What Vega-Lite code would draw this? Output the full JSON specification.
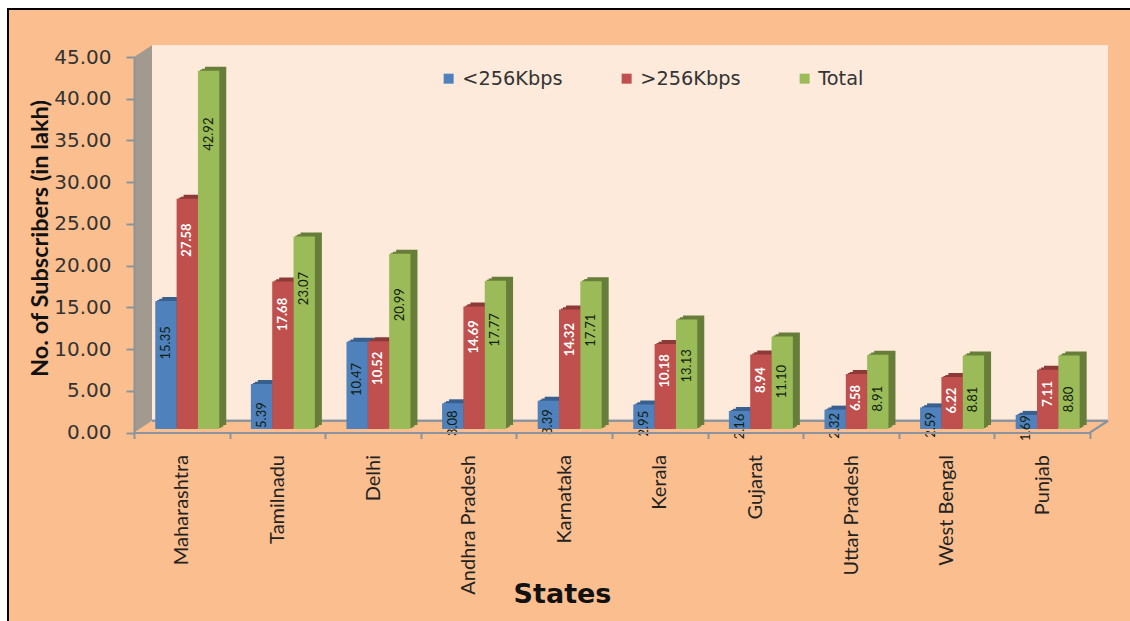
{"$schema":"https://vega.github.io/schema/vega-lite/v6.json","width":956,"height":375.5,"autosize":"none","padding":{"left":134,"top":57,"right":40,"bottom":188.5},"background":"#ffffff","view":{"stroke":null},
"data":{"values":[
{"State":"Maharashtra","Series":"<256Kbps","value":15.35},{"State":"Maharashtra","Series":">256Kbps","value":27.58},{"State":"Maharashtra","Series":"Total","value":42.92},
{"State":"Tamilnadu","Series":"<256Kbps","value":5.39},{"State":"Tamilnadu","Series":">256Kbps","value":17.68},{"State":"Tamilnadu","Series":"Total","value":23.07},
{"State":"Delhi","Series":"<256Kbps","value":10.47},{"State":"Delhi","Series":">256Kbps","value":10.52},{"State":"Delhi","Series":"Total","value":20.99},
{"State":"Andhra Pradesh","Series":"<256Kbps","value":3.08},{"State":"Andhra Pradesh","Series":">256Kbps","value":14.69},{"State":"Andhra Pradesh","Series":"Total","value":17.77},
{"State":"Karnataka","Series":"<256Kbps","value":3.39},{"State":"Karnataka","Series":">256Kbps","value":14.32},{"State":"Karnataka","Series":"Total","value":17.71},
{"State":"Kerala","Series":"<256Kbps","value":2.95},{"State":"Kerala","Series":">256Kbps","value":10.18},{"State":"Kerala","Series":"Total","value":13.13},
{"State":"Gujarat","Series":"<256Kbps","value":2.16},{"State":"Gujarat","Series":">256Kbps","value":8.94},{"State":"Gujarat","Series":"Total","value":11.10},
{"State":"Uttar Pradesh","Series":"<256Kbps","value":2.32},{"State":"Uttar Pradesh","Series":">256Kbps","value":6.58},{"State":"Uttar Pradesh","Series":"Total","value":8.91},
{"State":"West Bengal","Series":"<256Kbps","value":2.59},{"State":"West Bengal","Series":">256Kbps","value":6.22},{"State":"West Bengal","Series":"Total","value":8.81},
{"State":"Punjab","Series":"<256Kbps","value":1.69},{"State":"Punjab","Series":">256Kbps","value":7.11},{"State":"Punjab","Series":"Total","value":8.80}
]},
"resolve":{"scale":{"x":"independent","xOffset":"independent","color":"independent"},"axis":{"x":"independent","y":"independent"},"legend":{"color":"independent"}},
"layer":[
{"data":{"values":[{"d":0,"top":45,"base":0},{"d":0.188,"top":46.4,"base":1.4}]},"layer":[
{"mark":{"type":"rect","fill":"#FBBF8F","stroke":"#000000","strokeWidth":2},"encoding":{"x":{"datum":-1.318,"type":"quantitative","scale":{"domain":[0,10]},"axis":null},"x2":{"datum":11.5},"y":{"datum":50.75,"type":"quantitative","scale":{"domain":[0,45]},"axis":null},"y2":{"datum":-23}}},
{"mark":{"type":"rect","fill":"#FDEADA"},"encoding":{"x":{"datum":0.188,"type":"quantitative","scale":{"domain":[0,10]},"axis":null},"x2":{"datum":10.188},"y":{"datum":46.4,"type":"quantitative","scale":{"domain":[0,45]},"axis":null},"y2":{"datum":1.4}}},
{"mark":{"type":"area","fill":"#A39A8F","orient":"vertical"},"encoding":{"x":{"field":"d","type":"quantitative","scale":{"domain":[0,10]},"axis":null},"y":{"field":"top","type":"quantitative","scale":{"domain":[0,45]},"axis":null},"y2":{"field":"base"}}},
{"mark":{"type":"rule","color":"#8B949E","strokeWidth":2},"encoding":{"x":{"datum":0.188,"type":"quantitative","scale":{"domain":[0,10]},"axis":null},"x2":{"datum":10.188},"y":{"datum":1.4,"type":"quantitative","scale":{"domain":[0,45]},"axis":null}}},
{"mark":{"type":"rule","color":"#8B949E","strokeWidth":2},"encoding":{"x":{"datum":10,"type":"quantitative","scale":{"domain":[0,10]},"axis":null},"x2":{"datum":10.188},"y":{"datum":0,"type":"quantitative","scale":{"domain":[0,45]},"axis":null},"y2":{"datum":1.4}}}
]},
{"mark":{"type":"bar","opacity":0},"encoding":{
"x":{"field":"State","type":"nominal","sort":null,"scale":{"paddingInner":0,"paddingOuter":0},"title":"States","axis":{"zindex":1,"labelAngle":-90,"labelFont":"Lato","labelFontSize":20,"labelColor":"#222222","labelPadding":16,"labelAlign":"right","labelBaseline":"middle","tickBand":"extent","tickSize":6,"tickWidth":2,"tickColor":"#8B949E","domainColor":"#8B949E","domainWidth":2,"labelOverlap":false,"titleFont":"DejaVu Sans","titleFontWeight":"bold","titleFontSize":27,"titleColor":"#111111","titleX":428,"titleY":170,"titleAnchor":"middle","titleBaseline":"alphabetic"}},
"y":{"field":"value","type":"quantitative","scale":{"domain":[0,45]},"title":"No. of Subscribers (in lakh)","axis":{"zindex":1,"format":".2f","values":[0,5,10,15,20,25,30,35,40,45],"grid":false,"labelFont":"DejaVu Sans","labelFontSize":20,"labelColor":"#333333","labelPadding":15,"tickSize":8,"tickWidth":2,"tickColor":"#8B949E","domainColor":"#8B949E","domainWidth":2,"titleFont":"Lato","titleFontWeight":"bold","titleFontSize":23.5,"titleColor":"#111111","titleX":-82,"titleY":181,"titleAnchor":"middle"}}}},
{"mark":{"type":"bar","yOffset":-7.5,"y2Offset":-7.5},"encoding":{
"x":{"field":"State","type":"nominal","sort":null,"scale":{"paddingInner":0.33,"paddingOuter":0.165,"range":[12.5,968.5]},"axis":null},
"xOffset":{"field":"Series","sort":null,"scale":{"range":[0,64]}},
"y":{"field":"value","type":"quantitative","scale":{"domain":[0,45]},"axis":null},
"color":{"field":"Series","type":"nominal","sort":null,"legend":null,"scale":{"range":["#38608F","#8C3A38","#677E3A"]}}}},
{"mark":{"type":"bar","yOffset":-5.7,"y2Offset":-5.7},"encoding":{
"x":{"field":"State","type":"nominal","sort":null,"scale":{"paddingInner":0.33,"paddingOuter":0.165,"range":[9.5,965.5]},"axis":null},
"xOffset":{"field":"Series","sort":null,"scale":{"range":[0,64]}},
"y":{"field":"value","type":"quantitative","scale":{"domain":[0,45]},"axis":null},
"color":{"field":"Series","type":"nominal","sort":null,"legend":null,"scale":{"range":["#38608F","#8C3A38","#677E3A"]}}}},
{"mark":{"type":"bar","yOffset":-4.5,"y2Offset":-4.5},"encoding":{
"x":{"field":"State","type":"nominal","sort":null,"scale":{"paddingInner":0.33,"paddingOuter":0.165,"range":[7.5,963.5]},"axis":null},
"xOffset":{"field":"Series","sort":null,"scale":{"range":[0,64]}},
"y":{"field":"value","type":"quantitative","scale":{"domain":[0,45]},"axis":null},
"color":{"field":"Series","type":"nominal","sort":null,"legend":null,"scale":{"range":["#38608F","#8C3A38","#677E3A"]}}}},
{"mark":{"type":"bar","yOffset":-3.5,"y2Offset":-3.5},"encoding":{
"x":{"field":"State","type":"nominal","sort":null,"scale":{"paddingInner":0.33,"paddingOuter":0.165,"range":[5.5,961.5]},"axis":null},
"xOffset":{"field":"Series","sort":null,"scale":{"range":[0,64]}},
"y":{"field":"value","type":"quantitative","scale":{"domain":[0,45]},"axis":null},
"color":{"field":"Series","type":"nominal","sort":null,"scale":{"range":["#4F81BD","#C0504D","#9BBB59"]},"legend":{"title":null,"orient":"none","legendX":305,"legendY":12,"direction":"horizontal","columns":3,"symbolType":"square","symbolSize":100,"symbolStrokeWidth":0,"labelFont":"DejaVu Sans","labelFontSize":19.3,"labelColor":"#333333","columnPadding":54,"labelOffset":4}}}},
{"transform":[{"calculate":"datum.Series==='Total'?0.932*datum.value-4.67:max(0.899*datum.value-3.48,0.42*datum.value-0.6)","as":"labelAt"},{"filter":"datum.Series!=='>256Kbps'"}],"mark":{"type":"text","font":"Lato","fontSize":13,"angle":270,"align":"center","baseline":"middle","yOffset":-3.5,"color":"#10200f"},"encoding":{
"x":{"field":"State","type":"nominal","sort":null,"scale":{"paddingInner":0.33,"paddingOuter":0.165,"range":[5.5,961.5]},"axis":null},
"xOffset":{"field":"Series","sort":null,"scale":{"domain":["<256Kbps",">256Kbps","Total"],"range":[0,64]}},
"y":{"field":"labelAt","type":"quantitative","scale":{"domain":[0,45]},"axis":null},
"text":{"field":"value","type":"quantitative","format":".2f"}}},
{"transform":[{"calculate":"0.901*datum.value-2.2","as":"labelAt"},{"filter":"datum.Series==='>256Kbps'"}],"mark":{"type":"text","font":"Lato","fontSize":13,"fontWeight":"bold","angle":270,"align":"center","baseline":"middle","yOffset":-3.5,"color":"#ffffff"},"encoding":{
"x":{"field":"State","type":"nominal","sort":null,"scale":{"paddingInner":0.33,"paddingOuter":0.165,"range":[5.5,961.5]},"axis":null},
"xOffset":{"field":"Series","sort":null,"scale":{"domain":["<256Kbps",">256Kbps","Total"],"range":[0,64]}},
"y":{"field":"labelAt","type":"quantitative","scale":{"domain":[0,45]},"axis":null},
"text":{"field":"value","type":"quantitative","format":".2f"}}}
]}
